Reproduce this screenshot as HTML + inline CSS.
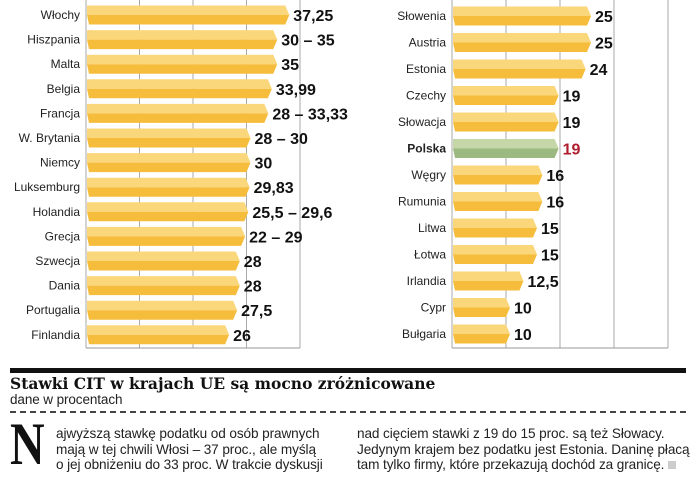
<!DOCTYPE html>
<html><head><meta charset="utf-8"><style>
body{margin:0;background:#fff;width:700px;height:499px;overflow:hidden;font-family:"Liberation Sans",sans-serif}
svg{position:absolute;left:0;top:0}
.txt{position:absolute;font-family:"Liberation Sans Narrow","Liberation Sans",sans-serif;font-size:13.6px;color:#222;line-height:15.5px;letter-spacing:-0.1px}
</style></head><body>
<svg id="chart" width="700" height="499"></svg>
<div style="position:absolute;left:10px;top:368px;width:676px;height:5px;background:#111"></div>
<div style="position:absolute;left:10px;top:374px;font-family:'DejaVu Serif','Liberation Serif',serif;font-weight:bold;font-size:15.5px;letter-spacing:0px;color:#111">Stawki CIT w krajach UE są mocno zróżnicowane</div>
<div class="txt" style="left:10px;top:392px;font-size:13.5px">dane w procentach</div>
<div style="position:absolute;left:10px;top:411px;width:676px;border-top:2px dashed #444"></div>
<div style="position:absolute;left:10px;top:414px;font-family:'Liberation Serif',serif;font-weight:bold;font-size:60px;line-height:60px;color:#111;transform:scaleX(0.8);transform-origin:left">N</div>
<div class="txt" style="left:56px;top:426px;width:290px">ajwyższą stawkę podatku od osób prawnych<br>mają w tej chwili Włosi – 37 proc., ale myślą<br>o jej obniżeniu do 33 proc. W trakcie dyskusji</div>
<div class="txt" style="left:357px;top:426px;width:340px">nad cięciem stawki z 19 do 15 proc. są też Słowacy.<br>Jedynym krajem bez podatku jest Estonia. Daninę płacą<br>tam tylko firmy, które przekazują dochód za granicę. <span style="display:inline-block;width:8px;height:8px;background:#ccc"></span></div>
<script>
const leftCountries=["Włochy","Hiszpania","Malta","Belgia","Francja","W. Brytania","Niemcy","Luksemburg","Holandia","Grecja","Szwecja","Dania","Portugalia","Finlandia"];
const leftValues=[37.25,35,35,33.99,33.33,30,30,29.83,29.6,29,28,28,27.5,26];
const leftLabels=["37,25","30 – 35","35","33,99","28 – 33,33","28 – 30","30","29,83","25,5 – 29,6","22 – 29","28","28","27,5","26"];
const rightCountries=["Słowenia","Austria","Estonia","Czechy","Słowacja","Polska","Węgry","Rumunia","Litwa","Łotwa","Irlandia","Cypr","Bułgaria"];
const rightValues=[25,25,24,19,19,19,16,16,15,15,12.5,10,10];
const rightLabels=["25","25","24","19","19","19","16","16","15","15","12,5","10","10"];
const gridTicks=[0,10,20,30,40];
const NS="http://www.w3.org/2000/svg";
const svg=document.getElementById('chart');
function mk(t,a){const e=document.createElementNS(NS,t);for(const k in a)e.setAttribute(k,a[k]);svg.appendChild(e);return e;}
function panel(cats,vals,labs,x0,scale,y0,step,labelX,side){
  const x=v=>x0+scale*v, y=i=>y0+step*i;
  gridTicks.forEach(t=>{const g=mk('line',{x1:x(t),x2:x(t),y1:0,y2:348,stroke:'#aaa','stroke-width':1});
    
    });
  const ax=mk('line',{x1:x(0),x2:x(40),y1:348,y2:348,stroke:'#999','stroke-width':1});
  
  
  cats.forEach((c,i)=>{
    const cy=y(i),h=19,t=cy-h/2,xe=x(vals[i]),xs=x(0)+1;
    const pl=c==="Polska";
    const g=mk('g',{});
    
    
    const top=pl?'#c5d7a8':'#fbd77c', bot=pl?'#9cb981':'#f6bd3c';
    const p1=document.createElementNS(NS,'polygon');
    p1.setAttribute('points',`${xs},${t} ${xe},${t} ${xe+4},${cy} ${xs},${cy}`);p1.setAttribute('fill',top);g.appendChild(p1);
    const p2=document.createElementNS(NS,'polygon');
    p2.setAttribute('points',`${xs},${cy} ${xe+4},${cy} ${xe},${t+h} ${xs+2},${t+h}`);p2.setAttribute('fill',bot);g.appendChild(p2);
    svg.appendChild(g);
    const l=mk('text',{x:labelX,y:cy+4,'text-anchor':'end','font-size':12,fill:'#222','font-weight':pl?'bold':'normal'});
    l.textContent=c;
    
    
    const v=mk('text',{x:xe+8,y:cy+6,'font-size':16,'font-weight':'bold',fill:pl?'#b01c2e':'#111'});
    v.textContent=labs[i];
    
    
  });
}
panel(leftCountries,leftValues,leftLabels,86,5.35,15,24.6,80,'left');
panel(rightCountries,rightValues,rightLabels,452,5.4,16,26.5,446,'right');
</script>
</body></html>
